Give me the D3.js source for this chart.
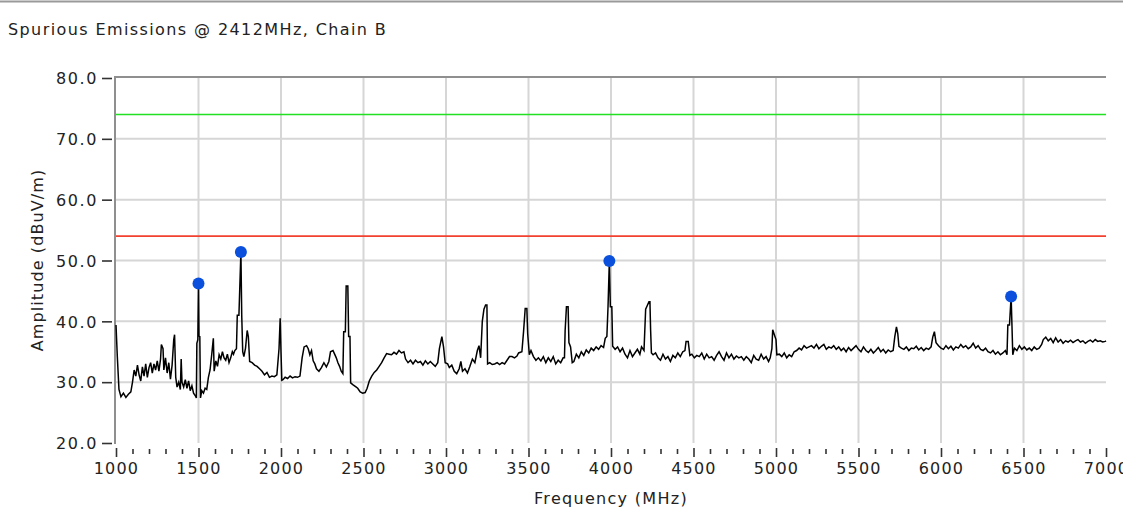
<!DOCTYPE html>
<html>
<head>
<meta charset="utf-8">
<script src="https://cdn.jsdelivr.net/npm/d3@7"></script>
<style>
  body { margin: 0; background: #fff; }
  svg { display: block; }
  text { font-family: "DejaVu Sans", sans-serif; fill: #222; }
</style>
</head>
<body>
<svg width="1123" height="519"></svg>
<script>
// chart values
var title = 'Spurious Emissions @ 2412MHz, Chain B';
var xLabel = 'Frequency (MHz)';
var yLabel = 'Amplitude (dBuV/m)';
var xTicks = [1000, 1500, 2000, 2500, 3000, 3500, 4000, 4500, 5000, 5500, 6000, 6500, 7000];
var yTicks = [20, 30, 40, 50, 60, 70, 80];
var limitPeak = 74;   // green
var limitAvg = 54;    // red
var markerFreq = [1500, 1757, 3990, 6425];
var markerAmp = [46.2, 51.4, 49.9, 44.1];

// [MHz, dBuV/m]
var trace = [
  [1000,39.4],[1008,34.2],[1018,28.8],[1030,27.6],[1045,28.2],[1060,27.5],[1075,28.0],[1090,28.4],
  [1100,30.0],[1110,32.0],[1120,31.0],[1130,32.8],[1140,31.2],[1150,30.2],[1160,32.5],[1170,31.0],
  [1180,33.0],[1190,30.8],[1200,32.4],[1210,33.2],[1220,31.5],[1230,33.0],[1240,32.0],[1250,33.5],
  [1260,31.8],[1270,33.8],[1275,36.2],[1285,35.5],[1290,32.0],[1300,34.0],[1310,31.5],[1320,33.2],
  [1330,30.5],[1340,32.8],[1350,37.0],[1355,37.8],[1362,30.8],[1370,29.2],[1380,30.0],[1390,28.8],
  [1395,33.8],[1400,30.0],[1410,29.2],[1420,30.4],[1430,29.0],[1440,30.2],[1450,28.6],[1460,29.4],
  [1470,28.2],[1480,27.8],[1487,27.4],[1490,36.4],[1496,37.0],[1500,46.2],[1503,37.6],[1508,37.5],
  [1512,27.4],[1520,28.6],[1530,28.2],[1540,29.0],[1550,28.8],[1560,30.8],[1570,32.0],[1580,34.5],
  [1590,37.2],[1595,31.8],[1605,33.5],[1615,32.6],[1625,34.5],[1635,33.8],[1645,35.0],[1655,34.0],
  [1665,33.6],[1675,34.6],[1685,33.2],[1695,34.0],[1705,35.0],[1712,34.6],[1720,35.2],[1730,35.5],
  [1735,41.0],[1745,41.0],[1757,51.4],[1762,41.0],[1768,35.0],[1775,34.2],[1785,35.6],[1795,38.5],
  [1802,37.5],[1810,33.4],[1825,33.2],[1840,32.8],[1855,32.6],[1870,32.2],[1885,31.8],[1900,31.2],
  [1915,31.6],[1930,30.8],[1945,31.0],[1960,30.9],[1975,31.2],[1988,35.5],[1995,40.5],[2000,35.0],
  [2005,30.3],[2012,30.4],[2025,30.8],[2040,30.6],[2055,31.0],[2070,30.7],[2085,30.9],[2100,30.8],
  [2115,31.0],[2128,34.0],[2140,35.8],[2155,36.0],[2165,35.5],[2175,34.5],[2185,35.2],[2195,33.5],
  [2205,33.0],[2215,32.2],[2230,31.8],[2245,32.4],[2260,33.2],[2275,32.5],[2290,33.4],[2300,35.0],
  [2315,35.2],[2325,34.6],[2335,34.0],[2345,33.2],[2355,32.6],[2365,31.8],[2375,31.4],[2380,38.3],
  [2390,38.3],[2395,45.8],[2405,45.8],[2410,37.5],[2418,37.5],[2422,29.9],[2435,29.6],[2450,29.3],
  [2465,29.0],[2480,28.4],[2495,28.2],[2510,28.3],[2522,29.0],[2535,30.2],[2550,31.0],[2565,31.6],
  [2580,32.0],[2595,32.6],[2610,33.2],[2625,34.0],[2640,34.7],[2655,34.6],[2670,34.5],[2685,34.9],
  [2700,34.6],[2715,35.2],[2730,34.8],[2745,35.0],[2755,33.8],[2770,33.2],[2785,33.6],[2800,33.0],
  [2815,33.6],[2830,33.2],[2845,33.4],[2860,32.8],[2875,33.5],[2890,33.0],[2905,33.4],[2920,33.0],
  [2935,32.6],[2950,33.2],[2960,35.5],[2975,37.5],[2985,35.8],[2995,33.2],[3010,33.0],[3020,32.4],
  [3035,32.8],[3050,31.8],[3065,31.4],[3080,32.2],[3090,33.4],[3100,31.8],[3115,32.2],[3130,31.5],
  [3145,32.6],[3160,33.8],[3175,33.2],[3190,35.2],[3200,36.0],[3210,34.0],[3220,40.0],[3230,42.0],
  [3240,42.7],[3248,42.7],[3252,33.0],[3265,33.2],[3280,32.9],[3295,33.0],[3310,33.2],[3325,32.9],
  [3340,33.2],[3355,33.0],[3370,33.6],[3385,34.2],[3400,34.2],[3415,34.0],[3430,34.3],[3440,34.8],
  [3460,35.0],[3470,38.3],[3480,42.1],[3490,42.1],[3495,38.0],[3505,34.5],[3515,35.2],[3530,34.2],
  [3545,33.6],[3560,34.0],[3575,33.5],[3590,34.2],[3605,33.2],[3620,34.0],[3635,33.4],[3650,34.2],
  [3665,33.0],[3680,33.6],[3695,33.2],[3710,34.0],[3718,34.0],[3722,38.5],[3730,42.4],[3740,42.4],
  [3745,36.5],[3755,35.8],[3765,33.2],[3775,33.4],[3790,34.6],[3805,34.0],[3820,35.0],[3835,34.4],
  [3850,35.3],[3865,34.8],[3880,35.6],[3895,35.2],[3910,35.8],[3925,35.4],[3940,36.0],[3955,35.7],
  [3965,37.2],[3975,37.5],[3982,42.4],[3990,49.9],[3996,42.4],[4005,42.4],[4010,35.9],[4025,35.4],
  [4040,35.8],[4055,35.0],[4070,35.6],[4085,34.6],[4100,34.0],[4115,35.2],[4130,34.2],[4145,34.8],
  [4160,35.4],[4175,34.6],[4185,35.8],[4200,35.2],[4210,42.0],[4220,42.6],[4230,43.2],[4236,43.2],
  [4240,38.6],[4245,34.8],[4255,34.5],[4270,34.8],[4285,34.0],[4300,33.6],[4315,34.6],[4330,33.8],
  [4345,34.2],[4360,33.4],[4375,34.4],[4390,34.0],[4405,34.8],[4420,34.2],[4435,35.0],[4448,35.2],
  [4455,36.7],[4468,36.7],[4478,34.4],[4490,34.6],[4505,34.0],[4520,34.4],[4535,34.2],[4550,34.8],
  [4565,33.8],[4580,34.6],[4595,34.0],[4610,34.2],[4625,33.6],[4640,34.4],[4655,35.0],[4670,34.2],
  [4685,33.6],[4700,34.8],[4715,34.0],[4730,34.6],[4745,33.8],[4760,34.3],[4775,34.0],[4790,34.2],
  [4805,33.6],[4820,34.2],[4835,33.8],[4850,33.2],[4865,34.4],[4880,33.8],[4895,33.6],[4910,34.6],
  [4925,33.8],[4940,34.2],[4955,33.4],[4965,34.0],[4975,35.5],[4980,38.6],[4990,37.8],[5000,37.0],
  [5005,34.5],[5020,34.6],[5035,34.2],[5050,34.8],[5065,34.0],[5080,34.5],[5095,34.2],[5110,35.0],
  [5125,35.2],[5140,35.6],[5155,35.3],[5170,36.0],[5185,35.6],[5200,35.8],[5215,36.0],[5230,35.6],
  [5245,36.2],[5260,35.5],[5275,35.9],[5290,36.2],[5305,35.4],[5320,35.8],[5335,35.6],[5350,36.0],
  [5365,35.4],[5380,35.8],[5395,35.2],[5410,35.6],[5425,35.0],[5440,35.7],[5455,35.2],[5470,35.6],
  [5485,36.0],[5500,35.4],[5515,35.0],[5530,35.8],[5545,35.2],[5560,34.9],[5575,35.4],[5590,34.8],
  [5605,35.2],[5620,35.7],[5635,35.0],[5650,35.4],[5665,34.8],[5680,35.3],[5695,35.0],[5710,35.2],
  [5720,37.5],[5730,39.1],[5738,38.0],[5745,35.9],[5760,35.6],[5775,35.4],[5790,35.8],[5805,35.2],
  [5820,35.6],[5835,35.5],[5850,35.9],[5865,35.3],[5880,35.7],[5895,35.2],[5910,35.6],[5925,35.4],
  [5940,35.8],[5950,37.4],[5960,38.3],[5970,36.5],[5985,36.0],[6000,35.6],[6015,35.4],[6030,36.0],
  [6045,35.5],[6060,35.9],[6075,35.3],[6090,35.8],[6105,35.6],[6120,36.2],[6135,35.7],[6150,36.0],
  [6165,35.5],[6180,35.8],[6195,36.4],[6210,35.6],[6225,36.0],[6240,35.4],[6255,35.2],[6270,35.6],
  [6285,35.0],[6300,34.8],[6315,35.2],[6330,34.6],[6345,35.0],[6360,34.5],[6375,34.8],[6390,35.2],
  [6400,34.5],[6405,39.4],[6415,39.4],[6425,44.1],[6430,39.4],[6435,34.5],[6445,35.6],[6460,35.2],
  [6475,36.0],[6490,35.4],[6505,35.8],[6520,35.3],[6535,35.6],[6550,35.2],[6565,35.8],[6580,35.4],
  [6595,35.6],[6610,36.2],[6620,37.0],[6635,37.4],[6650,36.8],[6665,37.2],[6680,36.5],[6695,37.3],
  [6710,36.6],[6725,37.0],[6740,36.4],[6755,36.8],[6770,36.6],[6785,36.9],[6800,36.5],[6815,36.8],
  [6830,37.0],[6845,36.6],[6860,36.8],[6875,36.4],[6890,36.7],[6905,36.9],[6920,36.6],[6935,37.0],
  [6950,36.7],[6965,36.8],[6980,36.6],[6995,36.7],[7000,36.8]
];

var svg = d3.select('svg');

var x = d3.scaleLinear().domain([1000, 7000]).range([116, 1106]);
var y = d3.scaleLinear().domain([20, 80]).range([443, 78]);

// panel edge at the very top
svg.append('line')
    .attr('x1', 0).attr('x2', 1123)
    .attr('y1', 1.5).attr('y2', 1.5)
    .attr('stroke', '#9a9a9a')
    .attr('stroke-width', 2);

svg.append('text')
    .attr('x', 8)
    .attr('y', 35)
    .attr('font-size', 16)
    .attr('letter-spacing', 1.4)
    .text(title);

// grid
var grid = svg.append('g').attr('stroke', '#d6d6d6').attr('stroke-width', 2);
grid.selectAll('.vg')
    .data(xTicks.slice(1, -1))
    .enter().append('line')
    .attr('x1', function(d){ return x(d); })
    .attr('x2', function(d){ return x(d); })
    .attr('y1', y(80)).attr('y2', y(20));
grid.selectAll('.hg')
    .data(yTicks.slice(1, -1))
    .enter().append('line')
    .attr('x1', x(1000)).attr('x2', x(7000))
    .attr('y1', function(d){ return y(d); })
    .attr('y2', function(d){ return y(d); });

// frame: top and left
svg.append('line')
    .attr('x1', x(1000) - 1).attr('x2', x(7000))
    .attr('y1', y(80) - 1).attr('y2', y(80) - 1)
    .attr('stroke', '#8f8f8f').attr('stroke-width', 2);
svg.append('line')
    .attr('x1', x(1000) - 1).attr('x2', x(1000) - 1)
    .attr('y1', y(80) - 2).attr('y2', y(20) + 1)
    .attr('stroke', '#8f8f8f').attr('stroke-width', 2);

// limit lines
svg.append('line')
    .attr('x1', x(1000)).attr('x2', x(7000))
    .attr('y1', y(limitPeak)).attr('y2', y(limitPeak))
    .attr('stroke', '#22e022').attr('stroke-width', 1.6);
svg.append('line')
    .attr('x1', x(1000)).attr('x2', x(7000))
    .attr('y1', y(limitAvg)).attr('y2', y(limitAvg))
    .attr('stroke', '#f2412e').attr('stroke-width', 1.6);

// trace
var lineFunction = d3.line()
    .x(function(d){ return x(d[0]); })
    .y(function(d){ return y(d[1]); });

svg.append('path')
    .datum(trace)
    .attr('d', lineFunction)
    .attr('fill', 'none')
    .attr('stroke', '#000')
    .attr('stroke-width', 1.5)
    .attr('stroke-linejoin', 'miter');

// peak markers
svg.selectAll('.marker')
    .data(markerFreq)
    .enter().append('circle')
    .attr('class', 'marker')
    .attr('cx', function(d){ return x(d); })
    .attr('cy', function(d, i){ return y(markerAmp[i]); })
    .attr('r', 6)
    .attr('fill', '#0a50dc');

// y axis
var yAxis = svg.append('g')
    .attr('transform', 'translate(112,0)')
    .call(d3.axisLeft(y).tickValues(yTicks).tickFormat(d3.format('.1f')).tickSize(10).tickPadding(4));
yAxis.select('.domain').remove();
yAxis.selectAll('line').attr('stroke', '#333').attr('stroke-width', 1.6);
yAxis.selectAll('text')
    .attr('font-size', 16)
    .attr('letter-spacing', 1.6)
    .attr('fill', '#222')
    .attr('dy', '0.36em');

// x axis, minor ticks every 100 MHz
var minor = d3.range(1100, 7000, 100).filter(function(d){ return d % 500 !== 0; });
var xMinor = svg.append('g')
    .attr('transform', 'translate(0,449)')
    .call(d3.axisBottom(x).tickValues(minor).tickSize(5).tickFormat(''));
xMinor.select('.domain').remove();
xMinor.selectAll('line').attr('stroke', '#333').attr('stroke-width', 1.6);

var xAxis = svg.append('g')
    .attr('transform', 'translate(0,448)')
    .call(d3.axisBottom(x).tickValues(xTicks).tickFormat(d3.format('d')).tickSize(9).tickPadding(6));
xAxis.select('.domain').remove();
xAxis.selectAll('line').attr('stroke', '#333').attr('stroke-width', 1.6);
xAxis.selectAll('text')
    .attr('font-size', 16)
    .attr('letter-spacing', 1.2)
    .attr('fill', '#222');

// axis titles
svg.append('text')
    .attr('x', 611)
    .attr('y', 504)
    .attr('text-anchor', 'middle')
    .attr('font-size', 16)
    .attr('letter-spacing', 1.3)
    .text(xLabel);

svg.append('text')
    .attr('transform', 'translate(43,260) rotate(-90)')
    .attr('text-anchor', 'middle')
    .attr('font-size', 16)
    .attr('letter-spacing', 1.1)
    .text(yLabel);
</script>
</body>
</html>
